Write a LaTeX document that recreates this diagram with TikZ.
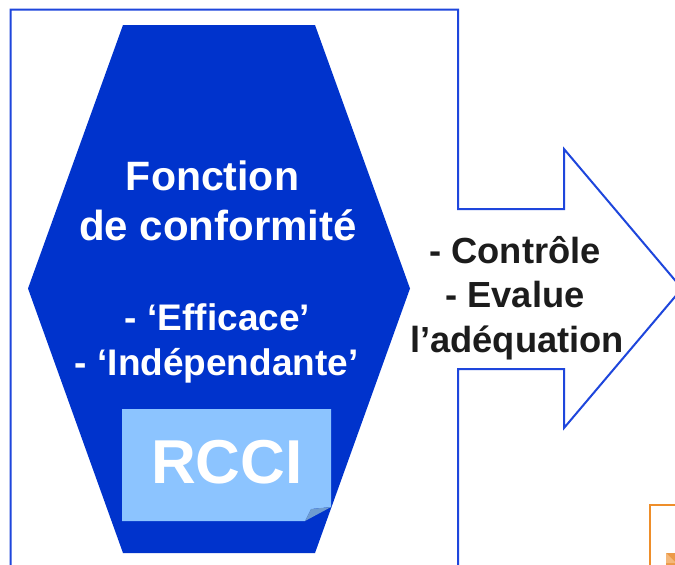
\documentclass[tikz,border=0pt]{standalone}
\usepackage{fontspec}
\setmainfont{Liberation Sans}
\definecolor{hexblue}{HTML}{0033CC}
\definecolor{lineblue}{HTML}{1E46DC}
\definecolor{noteblue}{HTML}{8CC4FF}
\definecolor{folddark}{HTML}{6E9CD0}
\definecolor{orangeln}{HTML}{EE8E2A}
\definecolor{orangefl}{HTML}{EC9A48}
\definecolor{orangelt}{HTML}{F4B87A}
\definecolor{txtdark}{HTML}{1C1C1C}
\begin{document}
\begin{tikzpicture}[x=1pt,y=-1pt,
  outline/.style={draw=lineblue, line width=2pt, line join=miter},
  hexfill/.style={fill=hexblue, draw=none},
  whitebig/.style={text=white, inner sep=0pt, anchor=base, font=\bfseries\fontsize{42}{50}\selectfont},
  whitemid/.style={text=white, inner sep=0pt, anchor=base, font=\bfseries\fontsize{37}{45}\selectfont},
  whitehuge/.style={text=white, inner sep=0pt, anchor=base, font=\bfseries\fontsize{62}{70}\selectfont},
  arrowtxt/.style={text=txtdark, inner sep=0pt, anchor=base, font=\bfseries\fontsize{36.3}{44}\selectfont}]
\useasboundingbox (0,0) rectangle (675,565);
\clip (0,0) rectangle (675,565);
\fill[white] (0,0) rectangle (675,565);
% outer frame with arrow
\draw[outline] (10.5,590) -- (10.5,9.5) -- (458,9.5) -- (458,209) -- (564,209) -- (564,149)
  -- (682,288.5) -- (564,428) -- (564,369) -- (458,369) -- (458,590);
% hexagon
\fill[hexblue] (123,25) -- (315,25) -- (410,288.5) -- (315,553) -- (123,553) -- (28,288.5) -- cycle;
% RCCI note
\fill[noteblue] (122,409) -- (331,409) -- (331,507) -- (311,509) -- (305,521) -- (122,521) -- cycle;
\fill[folddark] (305,521) -- (311,509) -- (331,507) -- cycle;
% orange partial box
\draw[orangeln, line width=2pt] (650,590) -- (650,505) -- (690,505);
\fill[orangefl] (666,553) rectangle (690,590);
\fill[orangelt] (666,553) -- (676,563) -- (666,563) -- cycle;
% texts
\node[whitebig, font=\bfseries\fontsize{41}{50}\selectfont] (t1) at (212.5,190) {Fonction};
\node[whitebig] (t2) at (218,240) {de conformité};
\node[whitemid] (t3) at (217.5,330) {- ‘Efficace’};
\node[whitemid] (t4) at (216.7,375) {- ‘Indépendante’};
\node[whitehuge] (rcci) at (227,483) {RCCI};
\node[arrowtxt] (a1) at (515,263) {- Contrôle};
\node[arrowtxt] (a2) at (515,307) {- Evalue};
\node[arrowtxt] (a3) at (517,352) {l’adéquation};
\end{tikzpicture}
\end{document}
